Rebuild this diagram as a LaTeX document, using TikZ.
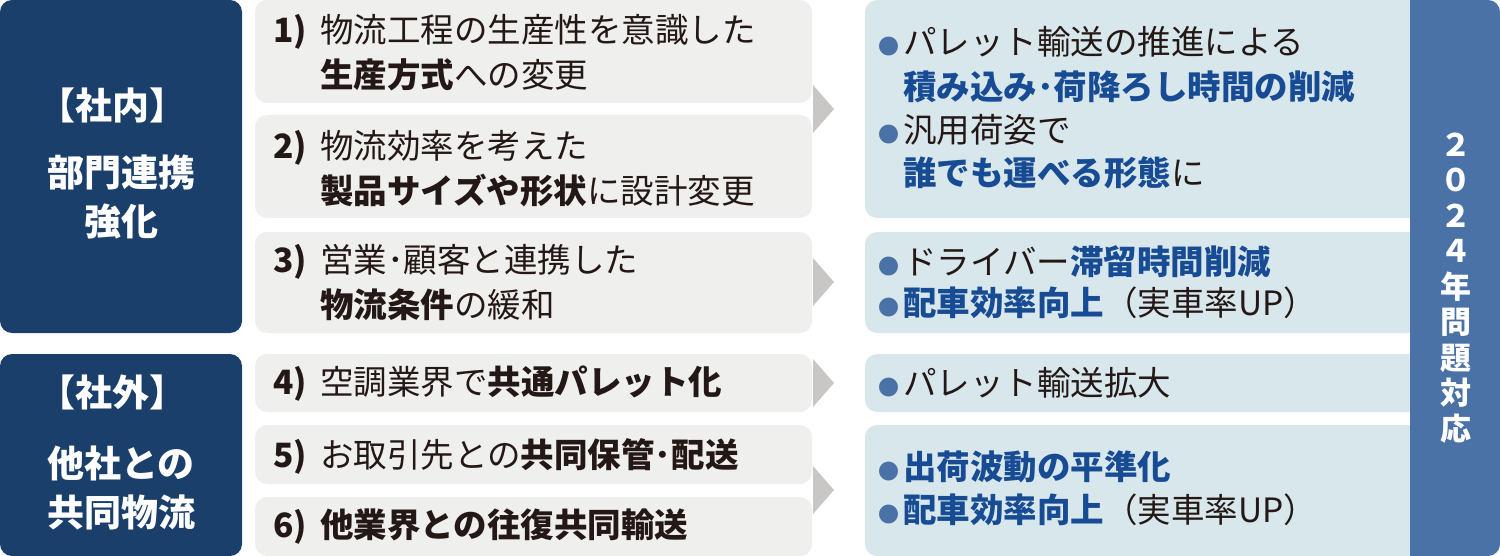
\documentclass[tikz,border=0pt]{standalone}
\usepackage{fontspec}
\setmainfont{Noto Sans CJK JP}
\definecolor{navy}{HTML}{1B3F6B}
\definecolor{gbox}{HTML}{EFEFEE}
\definecolor{lbox}{HTML}{D8E7EC}
\definecolor{colb}{HTML}{4B72A6}
\definecolor{btxt}{HTML}{174C94}
\definecolor{tri}{HTML}{C9C7C5}
\definecolor{txt}{HTML}{231815}
\newcommand{\B}[1]{{\bfseries #1}}
\newcommand{\BB}[1]{{\bfseries\color{btxt}#1}}
\newcommand{\dotb}{\makebox[25pt][l]{\color{colb}\fontsize{21}{21}\selectfont●}}
\begin{document}
\begin{tikzpicture}[x=1pt,y=-1pt,
  t/.style={anchor=west,inner sep=0,font=\fontsize{33.5}{36}\selectfont,text=txt},
  w/.style={anchor=center,inner sep=0,font=\bfseries\fontsize{37}{40}\selectfont,text=white}]
\useasboundingbox (0,0) rectangle (1500,556);
% left
\fill[navy,rounded corners=12] (0,0) rectangle (242,333);
\fill[navy,rounded corners=12] (0,354) rectangle (242,556);
\node[w] (l1) at (112,105) {【社内】};
\node[w] (l2) at (121,172) {部門連携};
\node[w] (l3) at (121,221) {強化};
\node[w] (l4) at (112,392) {【社外】};
\node[w] (l5) at (121,463) {他社との};
\node[w] (l6) at (121,512) {共同物流};
% middle
\foreach \a/\b in {0/103,115/218,232/333,354/412,425/484,497/556}
  \fill[gbox,rounded corners=12] (255,\a) rectangle (812,\b);
\node[t] (m1a) at (273,32) {\makebox[47pt][l]{\B{1)}}物流工程の生産性を意識した};
\node[t] (m1b) at (320,75) {\B{生産方式}への変更};
\node[t] (m2a) at (273,148) {\makebox[47pt][l]{\B{2)}}物流効率を考えた};
\node[t] (m2b) at (320,191) {\B{製品サイズや形状}に設計変更};
\node[t] (m3a) at (273,262) {\makebox[47pt][l]{\B{3)}}営業･顧客と連携した};
\node[t] (m3b) at (320,305) {\B{物流条件}の緩和};
\node[t] (m4) at (273,384) {\makebox[47pt][l]{\B{4)}}空調業界で\B{共通パレット化}};
\node[t] (m5) at (273,456) {\makebox[47pt][l]{\B{5)}}お取引先との\B{共同保管･配送}};
\node[t] (m6) at (273,527) {\makebox[47pt][l]{\B{6)}}\B{他業界との往復共同輸送}};
% triangles
\foreach \c in {109,282,383,490}
  \fill[tri] (813,\c-24) -- (834,\c) -- (813,\c+24) -- cycle;
% right
\fill[lbox,rounded corners=12] (865,0) rectangle (1420,218);
\fill[lbox,rounded corners=12] (865,232) rectangle (1420,333);
\fill[lbox,rounded corners=12] (865,354) rectangle (1420,412);
\fill[lbox,rounded corners=12] (865,425) rectangle (1420,556);
\fill[colb,rounded corners=12] (1410,0) rectangle (1500,556);
\fill[colb] (1410,0) rectangle (1430,556);
\node[t] (r1) at (878,42) {\dotb パレット輸送の推進による};
\node[t] (r2) at (903,87) {\BB{積み込み･荷降ろし時間の削減}};
\node[t] (r3) at (878,130) {\dotb 汎用荷姿で};
\node[t] (r4) at (903,173) {\BB{誰でも運べる形態}に};
\node[t] (r5) at (878,262) {\dotb ドライバー\BB{滞留時間削減}};
\node[t] (r6) at (878,303) {\dotb\BB{配車効率向上}（実車率UP）};
\node[t] (r7) at (878,383) {\dotb パレット輸送拡大};
\node[t] (r8) at (878,467) {\dotb\BB{出荷波動の平準化}};
\node[t] (r9) at (878,510) {\dotb\BB{配車効率向上}（実車率UP）};
\node[w,align=center,font=\bfseries\fontsize{31}{35.5}\selectfont] (v) at (1456,288) {２\\０\\２\\４\\年\\問\\題\\対\\応};
\end{tikzpicture}
\end{document}
